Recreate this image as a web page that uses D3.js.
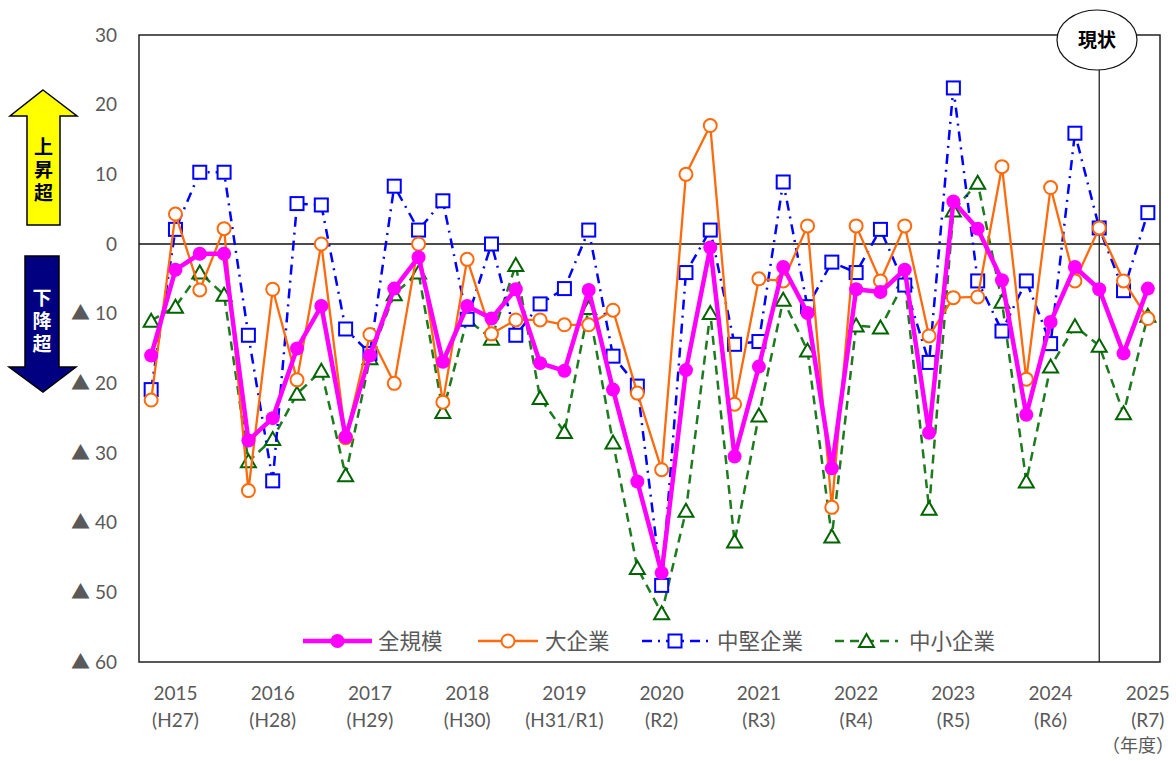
<!DOCTYPE html>
<html>
<head>
<meta charset="utf-8">
<script src="https://cdn.jsdelivr.net/npm/d3@7.9.0/dist/d3.min.js"></script>
<style>
  body { margin: 0; background: #fff; }
  svg { display: block; }
</style>
</head>
<body>
<svg id="chart" width="1176" height="761"></svg>
<script>
// quarterly survey points, 2015 Q1 ... 2025 Q2 (last two are forecasts)
const quarters = d3.range(42);
const yearLabels = ['2015', '2016', '2017', '2018', '2019', '2020', '2021', '2022', '2023', '2024', '2025'];
const eraLabels = ['(H27)', '(H28)', '(H29)', '(H30)', '(H31/R1)', '(R2)', '(R3)', '(R4)', '(R5)', '(R6)', '(R7)'];
const yTicks = [30, 20, 10, 0, -10, -20, -30, -40, -50, -60];
const currentIndex = 39;

const allSizes = [-16, -3.7, -1.4, -1.4, -28.2, -25.0, -15.0, -8.9, -27.7, -16, -6.4, -1.9, -16.9, -8.9, -10.7, -6.5, -17.1, -18.2, -6.6, -20.9, -34.1, -47.2, -18.1, -0.5, -30.5, -17.6, -3.3, -9.9, -32.2, -6.5, -6.9, -3.7, -27.1, 6.1, 2.2, -5.2, -24.5, -11.2, -3.3, -6.5, -15.7, -6.4];
const large = [-22.4, 4.3, -6.6, 2.2, -35.4, -6.5, -19.5, 0, -27.8, -13.0, -20.0, 0, -22.7, -2.2, -12.9, -10.9, -10.9, -11.6, -11.6, -9.5, -21.4, -32.4, 10.0, 17.0, -23.0, -5.0, -5.3, 2.6, -37.8, 2.6, -5.3, 2.6, -13.2, -7.7, -7.6, 11.1, -19.4, 8.1, -5.3, 2.3, -5.3, -10.7];
const midSized = [-20.9, 2.1, 10.3, 10.3, -13.1, -34.0, 5.8, 5.6, -12.2, -15.7, 8.3, 2.0, 6.2, -10.8, 0, -13.1, -8.6, -6.4, 2.0, -16.1, -20.4, -49.0, -4.1, 2.0, -14.4, -14.0, 8.9, -9.0, -2.6, -4.1, 2.1, -5.9, -17.0, 22.4, -5.3, -12.5, -5.3, -14.3, 15.9, 2.3, -6.7, 4.5];
const small = [-11.0, -9.0, -4.1, -7.3, -31.2, -28.0, -21.5, -18.2, -33.2, -16.4, -7.2, -4.1, -24.1, -10.8, -13.6, -3.0, -22.1, -27.0, -9.2, -28.5, -46.5, -53.0, -38.3, -9.9, -42.7, -24.6, -8.0, -15.3, -42.0, -11.7, -12.0, -5.4, -38.0, 4.8, 8.8, -8.3, -34.1, -17.6, -11.8, -14.6, -24.3, -10.3];

const seriesNames = ['全規模', '大企業', '中堅企業', '中小企業'];

const svg = d3.select('#chart');
const plotLeft = 139, plotRight = 1160, plotTop = 35, plotBottom = 662;
const latin = 'Lato, "Noto Sans CJK JP", sans-serif';
const cjk = '"Noto Sans CJK JP", sans-serif';
const gray = '#595959';

const x = d3.scaleBand().domain(quarters).range([plotLeft, plotRight]).padding(0);
const y = d3.scaleLinear().domain([-60, 30]).range([plotBottom, plotTop]);
const cx = i => x(i) + x.bandwidth() / 2;

// series styles
const styles = [
  { name: seriesNames[0], values: allSizes, color: '#FF00FF', width: 4.5, dash: null, marker: 'dot', order: 3 },
  { name: seriesNames[1], values: large, color: '#FF6A0D', width: 2.3, dash: null, marker: 'circle', order: 2 },
  { name: seriesNames[2], values: midSized, color: '#0000FF', width: 2.5, dash: '10,6,2,6', marker: 'square', order: 1 },
  { name: seriesNames[3], values: small, color: '#1E7A1E', width: 2.5, dash: '9,6', marker: 'triangle', order: 0 }
];

// frame
svg.append('rect')
  .attr('x', plotLeft).attr('y', plotTop)
  .attr('width', plotRight - plotLeft).attr('height', plotBottom - plotTop)
  .attr('fill', 'none').attr('stroke', '#222').attr('stroke-width', 1.5);

// zero line
svg.append('line')
  .attr('x1', plotLeft).attr('x2', plotRight)
  .attr('y1', y(0)).attr('y2', y(0))
  .attr('stroke', '#111').attr('stroke-width', 1.5);

// current marker line
svg.append('line')
  .attr('x1', cx(currentIndex)).attr('x2', cx(currentIndex))
  .attr('y1', 70).attr('y2', plotBottom)
  .attr('stroke', '#111').attr('stroke-width', 1.2);

// y axis labels
const yAxis = d3.axisLeft(y).tickValues(yTicks).tickSize(0).tickPadding(22)
  .tickFormat(v => v < 0 ? '▲ ' + (-v) : String(v));
const yg = svg.append('g').attr('transform', `translate(${plotLeft},0)`).call(yAxis);
yg.select('.domain').remove();
yg.selectAll('text').attr('fill', gray).style('font-family', latin).style('font-size', '19px');

// x labels (years at every 4th quarter starting from the 2nd)
yearLabels.forEach((yr, k) => {
  const xi = cx(1 + 4 * k);
  svg.append('text').attr('x', xi).attr('y', 700).attr('text-anchor', 'middle')
    .attr('fill', gray).style('font-family', latin).style('font-size', '19px').text(yr);
  svg.append('text').attr('x', xi).attr('y', 727).attr('text-anchor', 'middle')
    .attr('fill', gray).style('font-family', latin).style('font-size', '19px').text(eraLabels[k]);
});
svg.append('text').attr('x', 1138).attr('y', 752).attr('text-anchor', 'middle')
  .attr('fill', gray).style('font-family', cjk).style('font-size', '18px').text('（年度）');

// marker drawing
function drawMarker(g, s, px, py) {
  if (s.marker === 'dot') {
    g.append('circle').attr('cx', px).attr('cy', py).attr('r', 7).attr('fill', s.color);
  } else if (s.marker === 'circle') {
    g.append('circle').attr('cx', px).attr('cy', py).attr('r', 6.5)
      .attr('fill', '#fff').attr('stroke', s.color).attr('stroke-width', 2);
  } else if (s.marker === 'square') {
    g.append('rect').attr('x', px - 6.5).attr('y', py - 6.5).attr('width', 13).attr('height', 13)
      .attr('fill', '#fff').attr('stroke', s.color).attr('stroke-width', 2);
  } else {
    g.append('path')
      .attr('d', `M${px},${py - 7}L${px + 7.5},${py + 6}L${px - 7.5},${py + 6}Z`)
      .attr('fill', '#fff').attr('stroke', '#006400').attr('stroke-width', 2);
  }
}

const line = d3.line().x((d, i) => cx(i)).y(d => y(d));
const drawOrder = styles.slice().sort((a, b) => a.order - b.order);

drawOrder.forEach(s => {
  const g = svg.append('g');
  g.append('path').attr('d', line(s.values))
    .attr('fill', 'none').attr('stroke', s.color).attr('stroke-width', s.width)
    .attr('stroke-dasharray', s.dash).attr('stroke-linejoin', 'round');
  s.values.forEach((v, i) => drawMarker(g, s, cx(i), y(v)));
});

// legend
const legendY = 641;
const legendItems = [
  { s: styles[0], x0: 303, x1: 372, tx: 378 },
  { s: styles[1], x0: 478, x1: 538, tx: 545 },
  { s: styles[2], x0: 642, x1: 708, tx: 717 },
  { s: styles[3], x0: 835, x1: 898, tx: 909 }
];
legendItems.forEach(it => {
  const g = svg.append('g');
  g.append('line').attr('x1', it.x0).attr('x2', it.x1).attr('y1', legendY).attr('y2', legendY)
    .attr('stroke', it.s.color).attr('stroke-width', it.s.width).attr('stroke-dasharray', it.s.dash);
  drawMarker(g, it.s, (it.x0 + it.x1) / 2, legendY);
  g.append('text').attr('x', it.tx).attr('y', legendY + 8).attr('fill', gray)
    .style('font-family', cjk).style('font-size', '21.5px').text(it.s.name);
});

// 現状 bubble
svg.append('ellipse').attr('cx', 1097).attr('cy', 40).attr('rx', 40).attr('ry', 30)
  .attr('fill', '#fff').attr('stroke', '#111').attr('stroke-width', 1.2);
svg.append('text').attr('x', 1097).attr('y', 47).attr('text-anchor', 'middle')
  .style('font-family', cjk).style('font-size', '19px').style('font-weight', 'bold').text('現状');

// direction arrows with vertical captions
function verticalCaption(str, px, pyCenter, color) {
  svg.append('text')
    .attr('x', px).attr('y', pyCenter + 2)
    .attr('text-anchor', 'middle')
    .attr('fill', color)
    .style('writing-mode', 'vertical-rl')
    .style('letter-spacing', '4px')
    .style('font-family', cjk).style('font-size', '19px').style('font-weight', 'bold')
    .text(str);
}
svg.append('path')
  .attr('d', 'M43,90L77,116L60,116L60,225L27,225L27,116L10,116Z')
  .attr('fill', '#FFFF00').attr('stroke', '#000').attr('stroke-width', 1.5);
verticalCaption('上昇超', 43.5, 170, '#000');
svg.append('path')
  .attr('d', 'M25,256L59,256L59,367L76,367L43,392L9,367L25,367Z')
  .attr('fill', '#000080').attr('stroke', '#000').attr('stroke-width', 1.5);
verticalCaption('下降超', 42, 321, '#fff');
</script>
</body>
</html>
